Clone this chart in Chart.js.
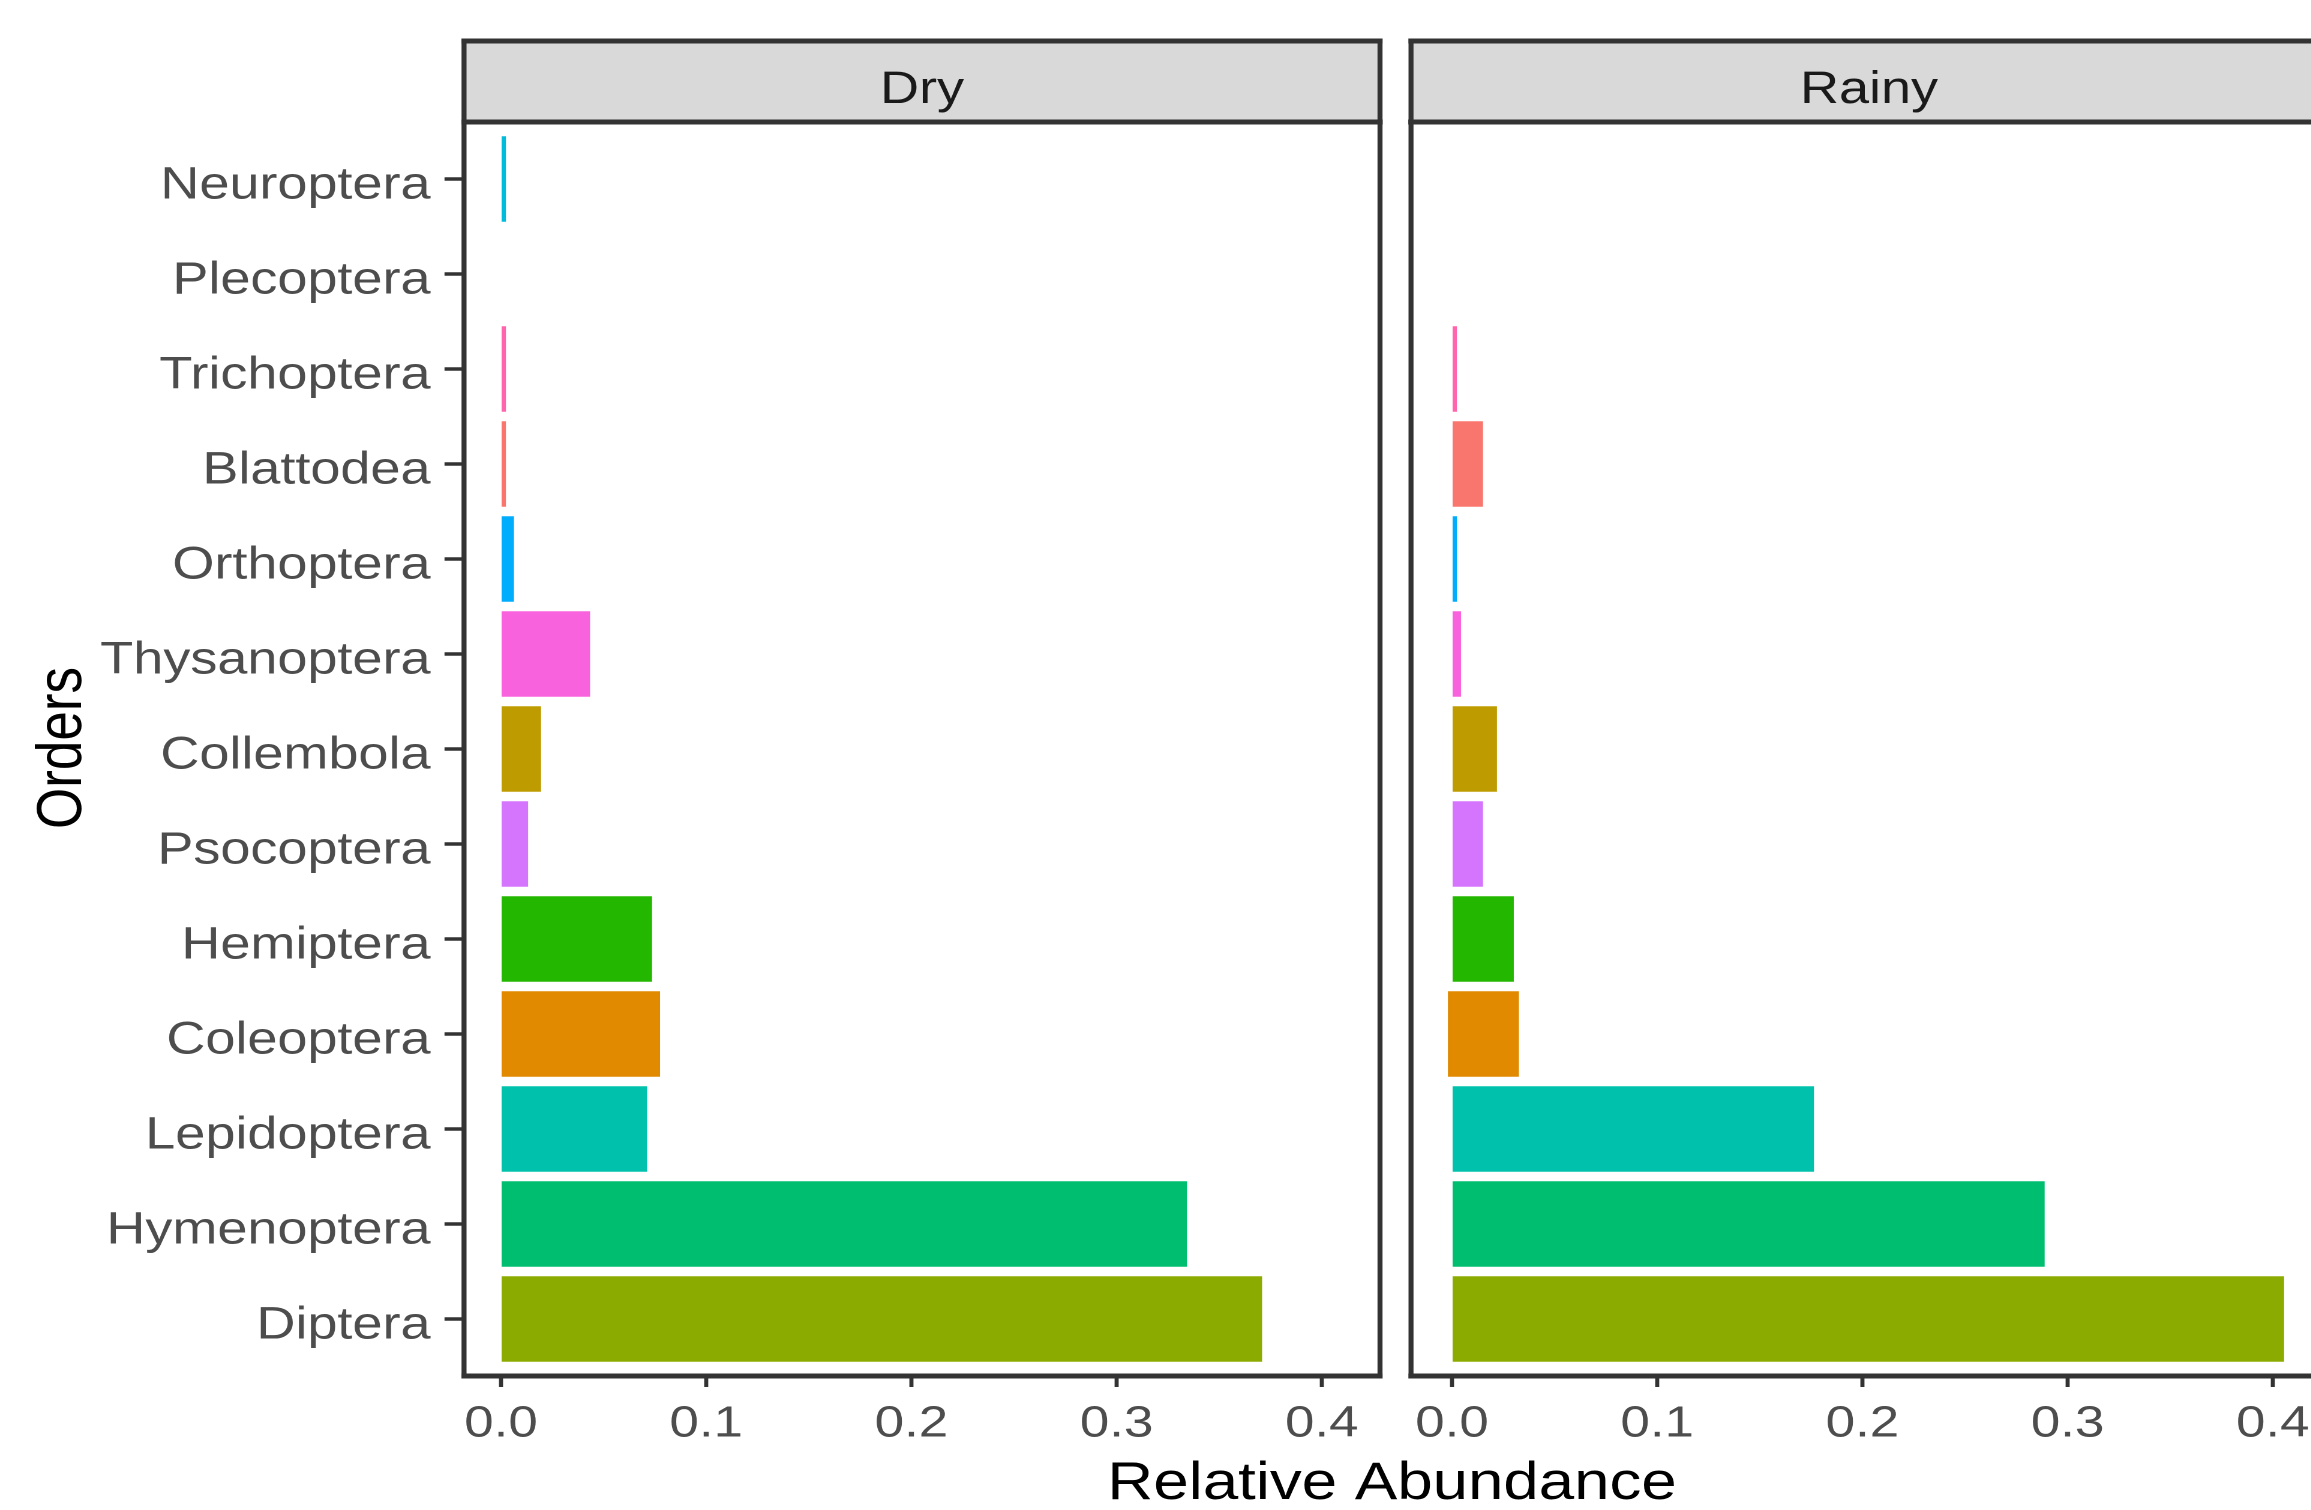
<!DOCTYPE html>
<html>
<head>
<meta charset="utf-8">
<script src="https://cdn.jsdelivr.net/npm/chart.js@4.4.1/dist/chart.umd.min.js"></script>
<style>
  html, body { margin: 0; padding: 0; overflow: hidden; background: #ffffff; width: 2311px; height: 1510px; }
  .wrap { position: absolute; left: 0; top: 0; width: 1960px; height: 1510px; transform: scaleX(1.2); transform-origin: 0 0; }
  #err { position: absolute; left: 1500px; top: 300px; color: red; font: 20px sans-serif; white-space: pre-wrap; width: 780px; }
</style>
</head>
<body>
<div class="wrap"><canvas id="dryChart"></canvas></div>
<div class="wrap"><canvas id="rainyChart"></canvas></div>
<div id="err"></div>
<script>
window.onerror = function (msg, src, line, col, e) {
  document.getElementById('err').textContent += msg + ' @' + line + ':' + col + '\n';
};
// ---------------- data ----------------
const categories = ['Neuroptera', 'Plecoptera', 'Trichoptera', 'Blattodea', 'Orthoptera', 'Thysanoptera',
  'Collembola', 'Psocoptera', 'Hemiptera', 'Coleoptera', 'Lepidoptera', 'Hymenoptera', 'Diptera'];
const dryValues   = [0.0024, 0, 0.0024, 0.0024, 0.0063, 0.0434, 0.0195, 0.0132, 0.0736, 0.0775, 0.0712, 0.3343, 0.3709];
const rainyValues = [0, 0, 0.0024, 0.0151, 0.0024, 0.0044, 0.0219, 0.0151, 0.0301, 0.0326, 0.1764, 0.2888, 0.4055];
const rainyStarts = [0, 0, 0, 0, 0, 0, 0, 0, 0, -0.002, 0, 0, 0];
const xTickValues = [0, 0.1, 0.2, 0.3, 0.4];
const xTickLabels = ['0.0', '0.1', '0.2', '0.3', '0.4'];
const panelLabels = ['Dry', 'Rainy'];
const xTitle = 'Relative Abundance';
const yTitle = 'Orders';

// ---------------- styles ----------------
const orderColors = {
  Blattodea: '#F8766D', Coleoptera: '#E18A00', Collembola: '#BE9C00', Diptera: '#8CAB00',
  Hemiptera: '#24B700', Hymenoptera: '#00BE70', Lepidoptera: '#00C1AB', Neuroptera: '#00BBDA',
  Orthoptera: '#00ACFC', Plecoptera: '#8B93FF', Psocoptera: '#D575FE', Thysanoptera: '#F962DD',
  Trichoptera: '#FF65AC'
};
const FONT = '"Liberation Sans", Arial, Helvetica, sans-serif';
const S = 1.2;          // horizontal stretch of the picture
const W = 1960;         // logical canvas width
const STRIP_TOP = 41;
const PANEL_TOP = 122;
const PANEL_BOTTOM = 1376;
const PX_PER_UNIT = 2052;
const panels = [
  { left: 464, right: 1380, zero: 501 },
  { left: 1411, right: 2327, zero: 1452 }
];

function frame(ctx, l, t, r, b) {
  const tv = 5 / S, th = 5;
  ctx.fillRect(l - tv / 2, t - th / 2, tv, b - t + th);
  ctx.fillRect(r - tv / 2, t - th / 2, tv, b - t + th);
  ctx.fillRect(l - tv / 2, t - th / 2, r - l + tv, th);
  ctx.fillRect(l - tv / 2, b - th / 2, r - l + tv, th);
}

const panelPlugin = {
  id: 'panelFrame',
  afterDraw(chart) {
    const { left, right, top, bottom } = chart.chartArea;
    const label = chart.$panelLabel;
    const ctx = chart.ctx;
    ctx.save();
    ctx.fillStyle = '#D9D9D9';
    ctx.fillRect(left, STRIP_TOP, right - left, top - STRIP_TOP);
    ctx.fillStyle = '#333333';
    frame(ctx, left, STRIP_TOP, right, top);
    frame(ctx, left, top, right, bottom);
    ctx.fillStyle = '#1A1A1A';
    ctx.font = '45px ' + FONT;
    ctx.textAlign = 'center';
    ctx.textBaseline = 'alphabetic';
    ctx.fillText(label, (left + right) / 2, 103);
    ctx.restore();
  }
};

const titlePlugin = {
  id: 'axisTitles',
  afterDraw(chart) {
    const ctx = chart.ctx;
    ctx.save();
    ctx.fillStyle = '#000000';
    ctx.font = '53px ' + FONT;
    ctx.textAlign = 'center';
    ctx.textBaseline = 'alphabetic';
    ctx.fillText(xTitle, 1392 / S, 1499);
    ctx.translate(81 / S, 748);
    ctx.rotate(-Math.PI / 2);
    ctx.fillText(yTitle, 0, 0);
    ctx.restore();
  }
};

function makeChart(canvasId, idx, points, showY) {
  const p = panels[idx];
  const xMin = -(p.zero - p.left) / PX_PER_UNIT;
  const xMax = xMin + (p.right - p.left) / PX_PER_UNIT;
  const plugins = [panelPlugin];
  if (showY) plugins.push(titlePlugin);
  const chart = new Chart(document.getElementById(canvasId), {
    type: 'bar',
    data: {
      datasets: [{
        data: points,
        backgroundColor: categories.map(c => orderColors[c]),
        borderWidth: 0,
        barPercentage: 0.9,
        categoryPercentage: 1.0
      }]
    },
    options: {
      indexAxis: 'y',
      responsive: true,
      maintainAspectRatio: false,
      animation: false,
      devicePixelRatio: 2,
      layout: {
        padding: { left: 0, right: W - p.right / S, top: PANEL_TOP, bottom: 0 }
      },
      plugins: {
        legend: { display: false },
        tooltip: { enabled: false }
      },
      scales: {
        x: {
          type: 'linear',
          position: 'bottom',
          min: xMin,
          max: xMax,
          offset: false,
          afterBuildTicks: s => { s.ticks = xTickValues.map(v => ({ value: v })); },
          afterFit: s => { s.height = 1510 - PANEL_BOTTOM; },
          grid: { offset: false, drawOnChartArea: false, drawTicks: true, tickLength: 11, tickWidth: 3.4, tickColor: '#333333' },
          border: { display: false },
          ticks: {
            autoSkip: false, maxRotation: 0, minRotation: 0, padding: 11,
            color: '#4D4D4D', font: { family: FONT, size: 44 },
            callback: (v, i) => xTickLabels[i]
          }
        },
        y: {
          type: 'linear',
          position: 'left',
          min: -0.6,
          max: categories.length - 0.4,
          reverse: true,
          offset: false,
          afterBuildTicks: s => { s.ticks = categories.map((c, i) => ({ value: i })); },
          afterFit: s => { s.width = p.left / S; },
          grid: { offset: false, drawOnChartArea: false, drawTicks: showY, tickLength: showY ? 16.25 : 0, tickWidth: 3.5, tickColor: '#333333' },
          border: { display: false },
          ticks: {
            display: showY,
            autoSkip: false, padding: 11.7, labelOffset: 7,
            color: '#4D4D4D', font: { family: FONT, size: 45 },
            callback: v => categories[v]
          }
        }
      }
    },
    plugins: plugins
  });
  chart.$panelLabel = panelLabels[idx];
  chart.draw();
  return chart;
}

const dryPoints = categories.map((c, i) => ({ x: dryValues[i], y: i }));
const rainyPoints = categories.map((c, i) => ({ x: [rainyStarts[i], rainyValues[i]], y: i }));

try { makeChart('dryChart', 0, dryPoints, true); } catch (e) { document.getElementById('err').textContent += 'dry: ' + e.message + '\n'; }
try { makeChart('rainyChart', 1, rainyPoints, false); } catch (e) { document.getElementById('err').textContent += 'rainy: ' + e.message + '\n'; }
</script>
</body>
</html>
